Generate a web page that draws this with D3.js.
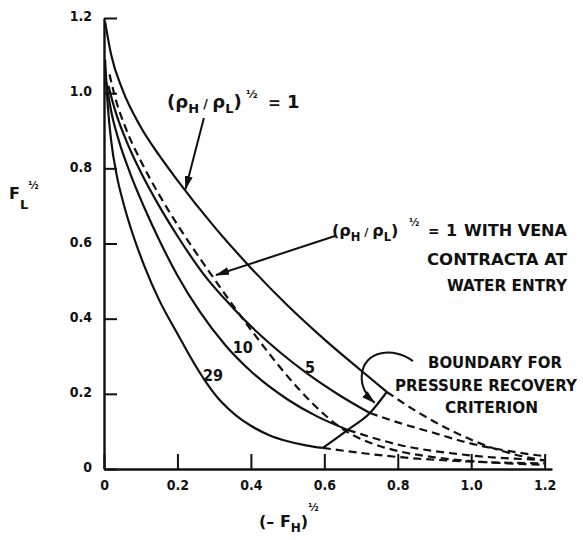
<!DOCTYPE html>
<html>
<head>
<meta charset="utf-8">
<script src="https://cdn.jsdelivr.net/npm/d3@7/dist/d3.min.js"></script>
<style>
  body { margin: 0; background: #fff; }
  svg text { font-family: "DejaVu Sans", sans-serif; font-weight: bold; fill: #111; }
  .tick text { font-family: "DejaVu Sans Condensed", "Liberation Sans Narrow", "DejaVu Sans", sans-serif; }
</style>
</head>
<body>
<div id="chart"></div>
<script>
// Tick values for both axes
const xTicks = [0, 0.2, 0.4, 0.6, 0.8, 1.0, 1.2];
const yTicks = [0, 0.2, 0.4, 0.6, 0.8, 1.0, 1.2];

// Curves: [(-F_H)^1/2, F_L^1/2]
const curveRho1 = [[0.003, 1.19], [0.02, 1.10], [0.05, 1.01], [0.1, 0.91], [0.15, 0.835],
  [0.2, 0.768], [0.3, 0.645], [0.4, 0.535], [0.5, 0.435], [0.6, 0.345], [0.7, 0.262], [0.77, 0.205]];
const curve5 = [[0.012, 1.02], [0.03, 0.955], [0.06, 0.875], [0.1, 0.79], [0.15, 0.70],
  [0.2, 0.62], [0.27, 0.52], [0.35, 0.43], [0.416, 0.365], [0.48, 0.31], [0.552, 0.255],
  [0.64, 0.197], [0.724, 0.149]];
const curve10 = [[0.006, 1.03], [0.02, 0.95], [0.04, 0.875], [0.07, 0.79], [0.11, 0.695],
  [0.15, 0.61], [0.2, 0.515], [0.26, 0.42], [0.33, 0.33], [0.4, 0.26], [0.5, 0.185],
  [0.58, 0.14], [0.664, 0.104]];
const curve29 = [[0.003, 1.09], [0.01, 0.97], [0.02, 0.87], [0.035, 0.78], [0.055, 0.70],
  [0.08, 0.62], [0.11, 0.54], [0.15, 0.45], [0.2, 0.36], [0.24, 0.29], [0.28, 0.228],
  [0.32, 0.178], [0.36, 0.142], [0.4, 0.115], [0.45, 0.09], [0.5, 0.074], [0.55, 0.063],
  [0.596, 0.056]];
// (rho_H/rho_L)^1/2 = 1 with vena contracta at water entry (dashed)
const venaContracta = [[0.015, 1.05], [0.03, 0.99], [0.06, 0.905], [0.1, 0.82], [0.15, 0.73],
  [0.2, 0.65], [0.29, 0.52], [0.416, 0.35], [0.48, 0.27], [0.533, 0.21], [0.6, 0.145],
  [0.66, 0.1], [0.73, 0.068], [0.8, 0.048], [0.9, 0.031], [1.0, 0.021], [1.1, 0.015], [1.2, 0.011]];
// boundary for pressure recovery criterion
const boundary = [[0.596, 0.056], [0.664, 0.104], [0.724, 0.149], [0.77, 0.205]];
// dashed continuations past the boundary
const extRho1 = [[0.77, 0.205], [0.86, 0.148], [0.94, 0.105], [1.07, 0.052], [1.2, 0.022]];
const ext5 = [[0.724, 0.149], [0.8, 0.124], [0.895, 0.097], [0.99, 0.07], [1.1, 0.048], [1.2, 0.034]];
const ext10 = [[0.664, 0.104], [0.805, 0.064], [0.99, 0.037], [1.2, 0.024]];
const ext29 = [[0.596, 0.056], [0.8, 0.032], [0.99, 0.02], [1.2, 0.015]];

// curve labels and where they sit
const curveLabels = ["5", "10", "29"];
const curveLabelPos = [[0.561, 0.271], [0.378, 0.325], [0.297, 0.25]];

const width = 583;
const height = 540;

const svg = d3.select("#chart")
  .append("svg")
  .attr("width", width)
  .attr("height", height);

const x = d3.scaleLinear().domain([0, 1.22]).range([104, 552]);
const y = d3.scaleLinear().domain([0, 1.2]).range([469, 18]);

const fmt = d => d === 0 ? "0" : d.toFixed(1);

// arrow head
svg.append("defs").append("marker")
  .attr("id", "arrow")
  .attr("viewBox", "0 0 14 8")
  .attr("refX", 13)
  .attr("refY", 4)
  .attr("markerWidth", 14)
  .attr("markerHeight", 8)
  .attr("markerUnits", "userSpaceOnUse")
  .attr("orient", "auto")
  .append("path")
  .attr("d", "M0,0 L14,4 L0,8 Z")
  .attr("fill", "#111");

// axes
const xAxis = svg.append("g")
  .attr("transform", `translate(0,${y(0)})`)
  .call(d3.axisBottom(x).tickValues(xTicks).tickSizeInner(-15).tickSizeOuter(0)
    .tickPadding(11).tickFormat(fmt));

const yAxis = svg.append("g")
  .attr("transform", `translate(${x(0)},0)`)
  .call(d3.axisLeft(y).tickValues(yTicks).tickSizeInner(-13).tickSizeOuter(0)
    .tickPadding(12).tickFormat(fmt));

[xAxis, yAxis].forEach(g => {
  g.select(".domain").attr("stroke", "#111").attr("stroke-width", 2.4);
  g.selectAll(".tick line").attr("stroke", "#111").attr("stroke-width", 2);
  g.selectAll(".tick text").attr("font-size", 14).attr("fill", "#111");
});
yAxis.selectAll(".tick text").attr("dy", "0.2em");

// curves
const line = d3.line()
  .x(d => x(d[0]))
  .y(d => y(d[1]))
  .curve(d3.curveMonotoneX);

const solid = [curveRho1, curve5, curve10, curve29, boundary];
const dashed = [venaContracta, extRho1, ext5, ext10, ext29];

svg.append("g")
  .selectAll("path")
  .data(solid)
  .enter().append("path")
  .attr("d", line)
  .attr("fill", "none")
  .attr("stroke", "#111")
  .attr("stroke-width", 2.2);

svg.append("g")
  .selectAll("path")
  .data(dashed)
  .enter().append("path")
  .attr("d", line)
  .attr("fill", "none")
  .attr("stroke", "#111")
  .attr("stroke-width", 2.2)
  .attr("stroke-dasharray", "8,5");

// curve labels
svg.append("g")
  .selectAll("text")
  .data(curveLabels)
  .enter().append("text")
  .attr("x", (d, i) => x(curveLabelPos[i][0]))
  .attr("y", (d, i) => y(curveLabelPos[i][1]))
  .attr("dy", "0.36em")
  .attr("text-anchor", "middle")
  .attr("font-size", 16)
  .style("font-family", '"DejaVu Sans Condensed", "DejaVu Sans", sans-serif')
  .text(d => d);

// (rho_H / rho_L)^1/2 = 1, pieces placed along a baseline
function rhoRatio(px, py, size, supX, eqX, oneX) {
  const t = svg.append("text").attr("x", px).attr("y", py).attr("font-size", size);
  t.append("tspan").text("(ρ");
  t.append("tspan").attr("dy", 5).attr("font-size", size * 0.72).text("H");
  t.append("tspan").attr("dy", -5).attr("font-size", size * 0.7).text(" / ");
  t.append("tspan").text("ρ");
  t.append("tspan").attr("dy", 5).attr("font-size", size * 0.72).text("L");
  t.append("tspan").attr("dy", -5).text(")");
  svg.append("text").attr("x", supX).attr("y", py - 10).attr("font-size", size * 0.62).text("½");
  svg.append("text").attr("x", eqX).attr("y", py).attr("font-size", size * 0.85).text("=");
  svg.append("text").attr("x", oneX).attr("y", py).attr("font-size", size).text("1");
}

rhoRatio(167, 108, 18, 246, 268, 287);
rhoRatio(332, 236, 16, 409, 428, 446);

// multi-line annotations
const note = (txt, px, py, len, anchor) => svg.append("text")
  .attr("x", px).attr("y", py)
  .attr("text-anchor", anchor)
  .attr("font-size", 15)
  .attr("textLength", len)
  .attr("lengthAdjust", "spacingAndGlyphs")
  .text(txt);

note("WITH VENA", 567, 236, 103, "end");
note("CONTRACTA AT", 567, 265, 140, "end");
note("WATER ENTRY", 567, 291, 120, "end");
note("BOUNDARY FOR", 562, 368, 134, "end");
note("PRESSURE RECOVERY", 395, 391, 182, "start");
note("CRITERION", 445, 413, 93, "start");

// arrows
const arrow = (a, b) => svg.append("line")
  .attr("x1", x(a[0])).attr("y1", y(a[1]))
  .attr("x2", x(b[0])).attr("y2", y(b[1]))
  .attr("stroke", "#111").attr("stroke-width", 2)
  .attr("marker-end", "url(#arrow)");

arrow([0.272, 0.934], [0.222, 0.745]);
arrow([0.629, 0.62], [0.305, 0.516]);

const bend = d3.path();
bend.moveTo(x(0.841), y(0.287));
bend.bezierCurveTo(x(0.792), y(0.325), x(0.707), y(0.317), x(0.702), y(0.25));
bend.bezierCurveTo(x(0.699), y(0.216), x(0.716), y(0.194), x(0.737), y(0.176));
svg.append("path")
  .attr("d", bend.toString())
  .attr("fill", "none")
  .attr("stroke", "#111").attr("stroke-width", 2)
  .attr("marker-end", "url(#arrow)");

// axis titles
const yTitle = svg.append("text").attr("x", 9).attr("y", 199).attr("font-size", 16);
yTitle.append("tspan").text("F");
yTitle.append("tspan").attr("dy", 10).attr("font-size", 13).text("L");
yTitle.append("tspan").attr("dy", -20).attr("font-size", 10).text("½");

const xTitle = svg.append("text").attr("x", 259).attr("y", 527).attr("font-size", 16);
xTitle.append("tspan").text("(– F");
xTitle.append("tspan").attr("dy", 5).attr("font-size", 12).text("H");
xTitle.append("tspan").attr("dy", -5).text(")");
xTitle.append("tspan").attr("dy", -16).attr("font-size", 10).text("½");
</script>
</body>
</html>
